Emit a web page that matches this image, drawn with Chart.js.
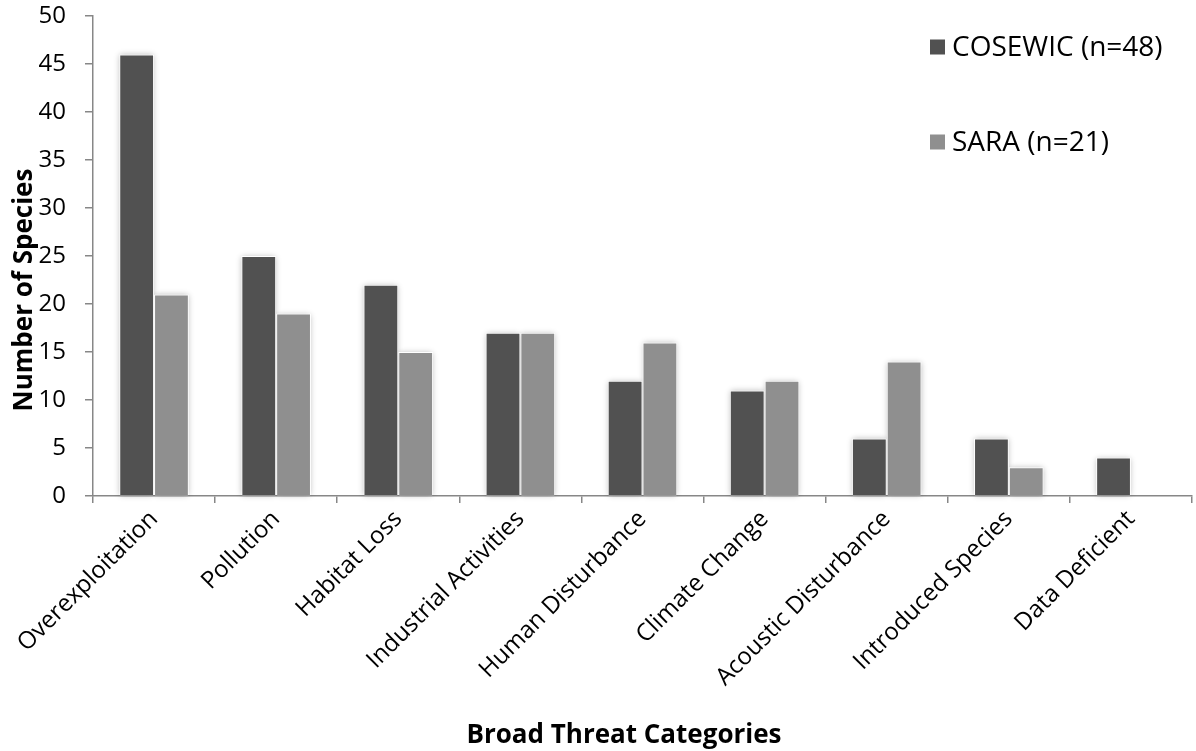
<!DOCTYPE html>
<html>
<head>
<meta charset="utf-8">
<script src="https://cdn.jsdelivr.net/npm/chart.js@4/dist/chart.umd.min.js"></script>
<style>
  html, body { margin: 0; padding: 0; background: #ffffff; }
  #wrap { width: 1196px; height: 751px; position: relative; }
</style>
</head>
<body>
<div id="wrap"><canvas id="chart" width="1196" height="751"></canvas></div>
<script>
// Threat categories and species counts per listing body
const categories = [
  'Overexploitation', 'Pollution', 'Habitat Loss', 'Industrial Activities',
  'Human Disturbance', 'Climate Change', 'Acoustic Disturbance',
  'Introduced Species', 'Data Deficient'
];
const cosewicCounts = [46, 25, 22, 17, 12, 11, 6, 6, 4];
const saraCounts = [21, 19, 15, 17, 16, 12, 14, 3, null];
const seriesNames = ['COSEWIC (n=48)', 'SARA (n=21)'];
const yTickValues = [0, 5, 10, 15, 20, 25, 30, 35, 40, 45, 50];
const xAxisTitle = 'Broad Threat Categories';
const yAxisTitle = 'Number of Species';

const FONT = "'Open Sans', 'Noto Sans', sans-serif";
const DARK = '#515151';
const LIGHT = '#8f8f8f';
const AXIS = '#878787';

// Soft halo behind every bar
const barShadow = {
  id: 'barShadow',
  beforeDatasetsDraw(chart) {
    const ctx = chart.ctx;
    ctx.save();
    ctx.shadowColor = 'rgba(0,0,0,0.3)';
    ctx.shadowBlur = 6;
    ctx.fillStyle = '#ffffff';
    chart.data.datasets.forEach((ds, i) => {
      chart.getDatasetMeta(i).data.forEach(bar => {
        const p = bar.getProps(['x', 'y', 'base', 'width'], true);
        if (p.y == null || isNaN(p.y) || p.base - p.y <= 0) return;
        ctx.fillRect(p.x - p.width / 2 + 1, p.y + 1, p.width - 2, p.base - p.y - 1);
      });
    });
    ctx.restore();
  }
};

// Legend and axis titles placed by hand
const annotations = {
  id: 'annotations',
  afterDraw(chart) {
    const ctx = chart.ctx;
    ctx.save();
    // legend
    const rows = [47, 142];
    chart.data.datasets.forEach((ds, i) => {
      const cy = rows[i];
      ctx.fillStyle = ds.backgroundColor;
      ctx.fillRect(930, cy - 7.5, 15, 15);
      ctx.fillStyle = '#000';
      ctx.font = `28px ${FONT}`;
      ctx.textAlign = 'left';
      ctx.textBaseline = 'middle';
      ctx.fillText(ds.label, 952, cy + 1);
    });
    // x title
    ctx.font = `bold 26px ${FONT}`;
    ctx.textAlign = 'center';
    ctx.textBaseline = 'alphabetic';
    ctx.fillText(xAxisTitle, 624, 743);
    // y title
    ctx.translate(32, 290);
    ctx.rotate(-Math.PI / 2);
    ctx.fillText(yAxisTitle, 0, 0);
    ctx.restore();
  }
};

new Chart(document.getElementById('chart'), {
  type: 'bar',
  data: {
    labels: categories,
    datasets: [
      { label: seriesNames[0], data: cosewicCounts, backgroundColor: DARK,
        borderColor: '#ffffff', borderWidth: 1 },
      { label: seriesNames[1], data: saraCounts, backgroundColor: LIGHT,
        borderColor: '#ffffff', borderWidth: 1 }
    ]
  },
  options: {
    responsive: false,
    animation: false,
    devicePixelRatio: 1,
    layout: { padding: { top: 16, right: 4, left: 0, bottom: 0 } },
    datasets: { bar: { categoryPercentage: 0.57, barPercentage: 1 } },
    plugins: {
      legend: { display: false },
      tooltip: { enabled: false }
    },
    scales: {
      x: {
        offset: true,
        grid: { offset: true, drawOnChartArea: false, drawTicks: true, tickLength: 7,
                color: AXIS, lineWidth: 1.5 },
        border: { display: true, color: AXIS, width: 1.5 },
        ticks: { minRotation: 45, maxRotation: 45, autoSkip: false, padding: 2,
                 color: '#000', font: { family: FONT, size: 24 } },
        afterFit(scale) {
          scale.height = 255;
          scale.paddingLeft = 0;
          scale.paddingRight = 0;
        }
      },
      y: {
        min: 0, max: 50,
        afterBuildTicks(scale) { scale.ticks = yTickValues.map(v => ({ value: v })); },
        grid: { drawOnChartArea: false, drawTicks: true, tickLength: 8,
                color: AXIS, lineWidth: 1.5 },
        border: { display: true, color: AXIS, width: 1.5 },
        ticks: { padding: 19, color: '#000', font: { family: FONT, size: 24 } },
        afterFit(scale) {
          scale.width = 93;
          scale.paddingTop = 0;
          scale.paddingBottom = 0;
        }
      }
    }
  },
  plugins: [barShadow, annotations]
});
</script>
</body>
</html>
